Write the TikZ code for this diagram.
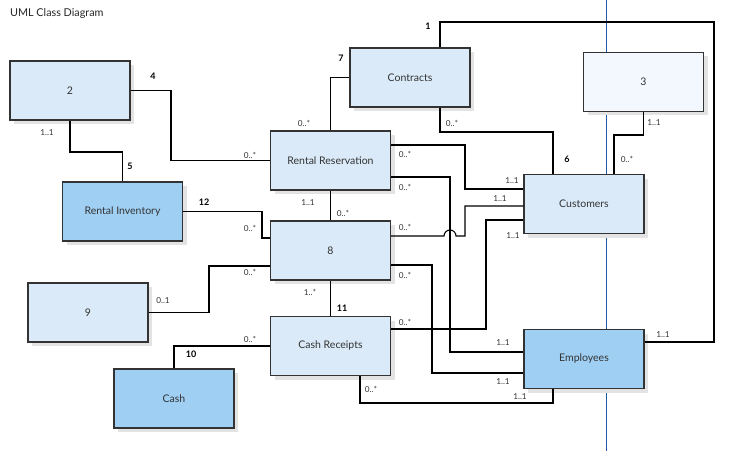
\documentclass[tikz,border=0pt]{standalone}
\usepackage{fontspec}
\setmainfont{Lato}
\usetikzlibrary{shadows}
\definecolor{boxfill}{HTML}{DAEAF8}
\definecolor{boxdark}{HTML}{9FCFF3}
\definecolor{boxpale}{HTML}{F3F8FE}
\definecolor{boxline}{HTML}{333333}
\definecolor{divider}{HTML}{1F5AA6}

\begin{document}
\begin{tikzpicture}[x=1pt, y=-1pt,
  cls/.style={draw=boxline, line width=1.3pt, fill=boxfill, minimum width=120pt,
    minimum height=59pt, inner sep=0pt, font=\fontsize{10.5}{12}\selectfont, text=black!80,
    drop shadow={shadow xshift=4pt, shadow yshift=-4pt, fill=black!11, opacity=1}},
  link/.style={draw=black, line width=1.1pt},
  mult/.style={font=\fontsize{8.2}{10}\selectfont, text=black!80, inner sep=0pt},
  num/.style={font=\bfseries\fontsize{9}{11}\selectfont, inner sep=0pt}]
\useasboundingbox (0,0) rectangle (737,452);
\node[anchor=west, inner sep=0pt, font=\fontsize{10.8}{12}\selectfont, text=black!85] (title) at (10,14) {UML Class Diagram};
\draw[divider, line width=1pt] (606,0) -- (606,451);
% classes
\node[cls] (two) at (70,90.5) {2};
\node[cls] (contracts) at (410,77.5) {Contracts};
\node[cls, fill=boxpale] (three) at (643.5,82) {3};
\node[cls, fill=boxdark] (inventory) at (122.5,211.5) {Rental Inventory};
\node[cls] (reservation) at (330.5,160.5) {Rental Reservation};
\node[cls] (eight) at (330.5,250.5) {8};
\node[cls] (customers) at (584,204) {Customers};
\node[cls] (nine) at (88,312.5) {9};
\node[cls, fill=boxdark] (cash) at (174,398.5) {Cash};
\node[cls] (receipts) at (330.5,346) {Cash Receipts};
\node[cls, fill=boxdark] (employees) at (584,359) {Employees};
% associations
\draw[link] (contracts.north -| 440,0) |- (714,22) |- (employees.east |- 0,342);
\draw[link] (two.east) -| (171,160.5) -- (reservation.west);
\draw[link] (two.south) |- (inventory.north |- 0,152) -- (inventory.north);
\draw[link] (contracts.west) -| (reservation.north);
\draw[link] (contracts.south -| 440,0) |- (553,132) -- (customers.north -| 553,0);
\draw[link] (three.south) |- (614,135) -- (customers.north -| 614,0);
\draw[link] (reservation.east |- 0,145) -| (465,189) -- (customers.west |- 0,189);
\draw[link] (reservation.east |- 0,177) -| (450,352) -- (employees.west |- 0,352);
\draw[link] (eight.east |- 0,236) -- (444,236) arc[start angle=180, end angle=0, radius=6pt]
  -- (465,236) |- (customers.west |- 0,206);
\draw[link] (eight.east |- 0,265) -| (432,373) -- (employees.west |- 0,373);
\draw[link] (receipts.east |- 0,329) -| (486,220) -- (customers.west |- 0,220);
\draw[link] (reservation.south) -- (eight.north);
\draw[link] (eight.south) -- (receipts.north);
\draw[link] (inventory.east) -| (262,238) -- (eight.west |- 0,238);
\draw[link] (nine.east) -| (209,266) -- (eight.west |- 0,266);
\draw[link] (cash.north) |- (receipts.west);
\draw[link] (receipts.south -| 360,0) |- (553,403) -- (employees.south -| 553,0);
% association numbers
\node[num] (n1) at (428,26) {1};
\node[num] (n4) at (153,76) {4};
\node[num] (n5) at (130,166) {5};
\node[num] (n7) at (341,58) {7};
\node[num] (n6) at (567,159) {6};
\node[num] (n12) at (204,202) {12};
\node[num] (n11) at (342,308) {11};
\node[num] (n10) at (191,354) {10};
% multiplicities
\node[mult] (m1) at (47,133) {1..1};
\node[mult] (m2) at (304,123) {0..*};
\node[mult] (m3) at (250,155) {0..*};
\node[mult] (m4) at (452,123) {0..*};
\node[mult] (m5) at (654,123) {1..1};
\node[mult] (m6) at (627,159) {0..*};
\node[mult] (m7) at (405,154) {0..*};
\node[mult] (m8) at (405,187) {0..*};
\node[mult] (m9) at (308,203) {1..1};
\node[mult] (m10) at (343,213) {0..*};
\node[mult] (m11) at (405,227) {0..*};
\node[mult] (m12) at (405,275) {0..*};
\node[mult] (m13) at (512,181) {1..1};
\node[mult] (m14) at (500,199) {1..1};
\node[mult] (m15) at (513,236) {1..1};
\node[mult] (m16) at (250,228) {0..*};
\node[mult] (m17) at (250,272) {0..*};
\node[mult] (m18) at (163,301) {0..1};
\node[mult] (m19) at (310,292) {1..*};
\node[mult] (m20) at (405,322) {0..*};
\node[mult] (m21) at (250,339) {0..*};
\node[mult] (m22) at (371,389) {0..*};
\node[mult] (m23) at (663,335) {1..1};
\node[mult] (m24) at (503,343) {1..1};
\node[mult] (m25) at (503,382) {1..1};
\node[mult] (m26) at (520,397) {1..1};
\end{tikzpicture}
\end{document}
